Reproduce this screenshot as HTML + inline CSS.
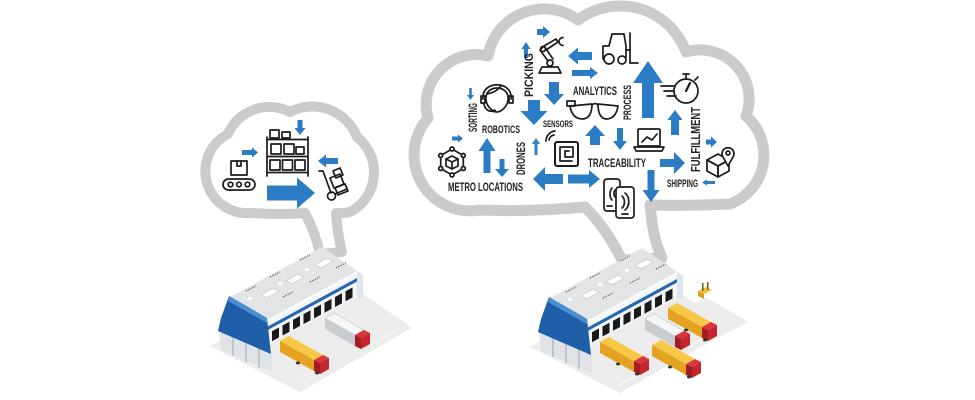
<!DOCTYPE html>
<html>
<head>
<meta charset="utf-8">
<style>
html,body{margin:0;padding:0;background:#fff;}
body{width:975px;height:400px;overflow:hidden;}
svg{display:block;}
.t{font-family:"Liberation Sans Narrow","Liberation Sans",sans-serif;font-weight:bold;fill:#222;}
.ic{fill:none;stroke:#1b1b1b;stroke-width:1.7;stroke-linecap:round;stroke-linejoin:round;}
.ar{fill:#2b7cc4;}
</style>
</head>
<body>
<svg width="975" height="400" viewBox="0 0 975 400" xmlns="http://www.w3.org/2000/svg">
<defs>
  <g id="ytruck">
    <polygon points="280,341 289,336 323,355 314,360" fill="#f7c846"/>
    <polygon points="280,341 314,360 314,371 280,352" fill="#e3a21f"/>
    <polygon points="314,360 323,355 329,358 320,363" fill="#d9353c"/>
    <polygon points="314,360 320,363 320,374 314,371" fill="#a51b22"/>
    <polygon points="320,363 329,358 329,369 320,374" fill="#c4262e"/>
    <ellipse cx="298" cy="363" rx="2" ry="1.5" fill="#333"/>
    <ellipse cx="317" cy="373" rx="2" ry="1.5" fill="#333"/>
  </g>
  <g id="bld">
    <polygon points="210,346 300,392 412,328 398,318 360,292 240,330" fill="#ececec"/>
    <g stroke="#fafafa" stroke-width="1">
      <line x1="300" y1="384" x2="330" y2="367"/>
      <line x1="370" y1="345" x2="400" y2="328"/>
    </g>
    <polygon points="219,330 272,354 272,372 221,350" fill="#dfe3e7"/>
    <g stroke="#a9b0b8" stroke-width="1.2">
      <line x1="233" y1="336" x2="233" y2="356"/>
      <line x1="246" y1="342" x2="246" y2="362"/>
      <line x1="259" y1="348" x2="259" y2="368"/>
    </g>
    <polygon points="230,297 322,247 357,271 265,321" fill="#e3e4e6"/>
    <polygon points="357,271 363,275 363,299 357,297" fill="#dde5ee"/>
    <polygon points="265,321 357,271 357,297 265,347" fill="#f2f5f8"/>
    <polygon points="265,321 357,271 357,274 265,324" fill="#f8fafc"/>
    <polygon points="265,328 357,278 357,281.5 265,331.5" fill="#2566ae"/>
    <g fill="#1a1a1a">
      <polygon points="272,331.2 279,327.4 279,337.4 272,341.2"/>
      <polygon points="282.5,325.5 289.5,321.7 289.5,331.7 282.5,335.5"/>
      <polygon points="293,319.8 300,316 300,326 293,329.8"/>
      <polygon points="303.5,314.1 310.5,310.3 310.5,320.3 303.5,324.1"/>
      <polygon points="314,308.4 321,304.6 321,314.6 314,318.4"/>
      <polygon points="324.5,302.7 331.5,298.9 331.5,308.9 324.5,312.7"/>
      <polygon points="335,297 342,293.2 342,303.2 335,307"/>
      <polygon points="345.5,291.3 352.5,287.5 352.5,297.5 345.5,301.3"/>
    </g>
    <polygon points="229,296 267,318 271,354 218,331 221,318" fill="#1e5fa8"/>
    <polygon points="229,296 267,318 267,323 228,301" fill="#4a8fd0"/>
    <g fill="#ffffff" stroke="#c9cbce" stroke-width="0.8">
      <polygon points="261,294.7 273,288.1 279,291.3 267,297.9"/>
      <polygon points="286,280.7 298,274.1 304,277.3 292,283.9"/>
      <polygon points="315,264.7 327,258.1 333,261.3 321,267.9"/>
    </g>
    <g fill="#ffffff">
      <rect x="248" y="297" width="4" height="3"/>
      <rect x="278" y="282" width="4" height="3"/>
      <rect x="305" y="268" width="4" height="3"/>
    </g>
    <g stroke="#6d6f73" stroke-width="1.4" stroke-dasharray="1.3,1.3">
      <line x1="246" y1="291" x2="256" y2="286"/>
      <line x1="270" y1="277" x2="280" y2="272"/>
      <line x1="300" y1="260" x2="310" y2="255"/>
      <line x1="283" y1="297" x2="293" y2="292"/>
      <line x1="310" y1="282" x2="320" y2="277"/>
      <line x1="336" y1="268" x2="346" y2="263"/>
    </g>
    <use href="#ytruck"/>
    <polygon points="325,318 334,313 364,330 355,335" fill="#f6f6f6" stroke="#c4c8cc" stroke-width="0.6"/>
    <polygon points="325,318 355,335 355,346 325,329" fill="#c9cdd2"/>
    <polygon points="355,335 364,330 370,333 361,338" fill="#d9353c"/>
    <polygon points="355,335 361,338 361,349 355,346" fill="#a51b22"/>
    <polygon points="361,338 370,333 370,344 361,349" fill="#c4262e"/>
  </g>
</defs>

<!-- LEFT CLOUD -->
<path d="M252,213 A42,42 0 0 1 228,134 A45,45 0 0 1 290,112 A48,48 0 0 1 357,137 A45,45 0 0 1 352,211 Q345,214 336,213 C337,228 339,240 342,252 L320,254 C317,240 312,226 305,213 Q280,215 252,213 Z" fill="#fff" stroke="#cbcbcb" stroke-width="10" stroke-linejoin="round"/>

<!-- RIGHT CLOUD -->
<path d="M480,210 A56,56 0 0 1 428,118 A50,50 0 0 1 488,56 A57,57 0 0 1 578,20 A70,70 0 0 1 686,52 A49,49 0 0 1 746,116 A52,52 0 0 1 730,204 Q690,206 650,205 C652,225 654,240 662,258 L622,260 C612,240 600,222 585,207 Q530,212 480,210 Z" fill="#fff" stroke="#cbcbcb" stroke-width="11" stroke-linejoin="round"/>

<!-- BUILDINGS -->
<polygon points="615,390 748,322 706,297 650,330" fill="#ececec"/>
<use href="#bld"/>
<use href="#bld" transform="translate(320,1)"/>
<use href="#ytruck" transform="translate(388,-33)"/>
<use href="#ytruck" transform="translate(372,4)"/>
<g>
  <polygon points="698,291 706,287 712,290 704,294" fill="#f2c230"/>
  <polygon points="698,291 704,294 704,299 698,296" fill="#d9a21c"/>
  <rect x="702" y="283" width="1.5" height="8" fill="#6a5a20"/>
  <rect x="707" y="282" width="1.5" height="8" fill="#6a5a20"/>
</g>

<!-- LEFT CLOUD ICONS -->
<g class="ic">
  <line x1="267" y1="137" x2="267" y2="176"/>
  <line x1="308" y1="137" x2="308" y2="176"/>
  <line x1="267" y1="139.5" x2="308" y2="139.5"/>
  <line x1="267" y1="156.5" x2="308" y2="156.5"/>
  <line x1="267" y1="172.5" x2="308" y2="172.5"/>
  <rect x="270" y="130" width="9" height="8"/>
  <rect x="282" y="132" width="8" height="6"/>
  <rect x="271" y="144" width="10" height="10"/>
  <rect x="284" y="144" width="10" height="10"/>
  <rect x="296" y="147" width="8" height="7"/>
  <rect x="270" y="160" width="10" height="10"/>
  <rect x="282.5" y="160" width="10" height="10"/>
  <rect x="295" y="160" width="10" height="10"/>
  <rect x="231" y="161" width="16" height="14"/>
  <path d="M237,161 L237,166 L241,166 L241,161"/>
  <rect x="223" y="179" width="32" height="11" rx="5.5"/>
  <circle cx="230.5" cy="184.5" r="2.3"/>
  <circle cx="239" cy="184.5" r="2.3"/>
  <circle cx="247.5" cy="184.5" r="2.3"/>
  <path d="M319,171 L323,171 L331,193"/>
  <circle cx="331.5" cy="196" r="4"/>
  <path d="M335,194 L347,189"/>
  <polygon points="330,178 340,174 344,184 334,188"/>
  <polygon points="335,188 345,184 348,191 338,195"/>
  <polygon points="333,171 340,168 343,175 336,178"/>
</g>
<g class="ar">
  <polygon transform="translate(300,120) rotate(90)" points="0,-2.5 8,-2.5 8,-5.5 15,0 8,5.5 8,2.5 0,2.5"/>
  <polygon transform="translate(242,152.5)" points="0,-2.5 10,-2.5 10,-5 16,0 10,5 10,2.5 0,2.5"/>
  <polygon transform="translate(338,161) rotate(180)" points="0,-3 12,-3 12,-6.5 20,0 12,6.5 12,3 0,3"/>
  <polygon transform="translate(267,193)" points="0,-7.5 30,-7.5 30,-15.5 48,0 30,15.5 30,7.5 0,7.5"/>
</g>

<!-- RIGHT CLOUD ARROWS -->
<g class="ar">
  <polygon transform="translate(537,32)" points="0,-3 6,-3 6,-6 13,0 6,6 6,3 0,3"/>
  <polygon transform="translate(526,58) rotate(-90)" points="0,-2 9,-2 9,-4.5 16,0 9,4.5 9,2 0,2"/>
  <polygon transform="translate(592,56) rotate(180)" points="0,-4 14,-4 14,-8.5 24,0 14,8.5 14,4 0,4"/>
  <polygon transform="translate(572,73)" points="0,-3 18,-3 18,-6 26,0 18,6 18,3 0,3"/>
  <polygon transform="translate(554,82) rotate(90)" points="0,-5 12,-5 12,-10 23,0 12,10 12,5 0,5"/>
  <polygon transform="translate(534,100) rotate(90)" points="0,-6 11,-6 11,-13.5 25,0 11,13.5 11,6 0,6"/>
  <polygon transform="translate(470.5,88) rotate(90)" points="0,-1.25 7,-1.25 7,-3.5 12,0 7,3.5 7,1.25 0,1.25"/>
  <polygon transform="translate(648,118) rotate(-90)" points="0,-6 35,-6 35,-15 57,0 35,15 35,6 0,6"/>
  <polygon transform="translate(675,135) rotate(-90)" points="0,-4 15,-4 15,-7.5 25,0 15,7.5 15,4 0,4"/>
  <polygon transform="translate(595,145) rotate(-90)" points="0,-5 9,-5 9,-10 20,0 9,10 9,5 0,5"/>
  <polygon transform="translate(620,128) rotate(90)" points="0,-3 13,-3 13,-7 22,0 13,7 13,3 0,3"/>
  <polygon transform="translate(536,155) rotate(-90)" points="0,-1.5 11,-1.5 11,-4 17,0 11,4 11,1.5 0,1.5"/>
  <polygon transform="translate(452,138.5)" points="0,-2 6,-2 6,-4 11,0 6,4 6,2 0,2"/>
  <polygon transform="translate(487,173) rotate(-90)" points="0,-3.5 22,-3.5 22,-8.5 35,0 22,8.5 22,3.5 0,3.5"/>
  <polygon transform="translate(502,159) rotate(90)" points="0,-2.5 10,-2.5 10,-7 18,0 10,7 10,2.5 0,2.5"/>
  <polygon transform="translate(563,179) rotate(180)" points="0,-5 18,-5 18,-12 30,0 18,12 18,5 0,5"/>
  <polygon transform="translate(568,179)" points="0,-4.5 21,-4.5 21,-9 32,0 21,9 21,4.5 0,4.5"/>
  <polygon transform="translate(660,163)" points="0,-4 14,-4 14,-11 25,0 14,11 14,4 0,4"/>
  <polygon transform="translate(651,170) rotate(90)" points="0,-3.5 20,-3.5 20,-8.5 32,0 20,8.5 20,3.5 0,3.5"/>
  <polygon transform="translate(706,142)" points="0,-2.5 5,-2.5 5,-5.5 11,0 5,5.5 5,2.5 0,2.5"/>
  <polygon transform="translate(715,182.5) rotate(180)" points="0,-1.5 8,-1.5 8,-3 13,0 8,3 8,1.5 0,1.5"/>
</g>

<!-- RIGHT CLOUD ICONS -->
<g class="ic">
  <path d="M539,73 L561,73 L558,67 L542,67 Z"/>
  <circle cx="550" cy="63" r="3"/>
  <path d="M548,61 L540,50 L544,46 L553,59"/>
  <circle cx="543" cy="49" r="2.5"/>
  <path d="M544,46 L556,39 L558,42 L546,50"/>
  <path d="M563,37.5 A4,4 0 1,0 563,45.5"/>
  <path d="M603,59 L603,46 L609,46 L612,34 L624,34 L626,46 L626,58"/>
  <circle cx="609" cy="59" r="5"/>
  <circle cx="622" cy="60" r="4"/>
  <line x1="630" y1="33" x2="630" y2="63"/>
  <line x1="630" y1="63" x2="638" y2="63"/>
  <line x1="626" y1="50" x2="630" y2="50"/>
  <path d="M486,100 C484,84 510,84 508,100 C507,108 500,112 497,112 C494,112 487,108 486,100 Z"/>
  <path d="M487,94 C493,93 498,90 501,86"/>
  <path d="M483,99 C481,80 513,80 511,99"/>
  <rect x="481" y="96" width="4" height="7"/>
  <rect x="509" y="96" width="4" height="7"/>
  <path d="M484,104 C485,110 489,112 494,111"/>
  <path d="M570,106 L592,104 Q592,118 583,119 Q572,119 570,106 Z"/>
  <path d="M598,104 L618,106 Q616,119 606,119 Q598,118 598,104 Z"/>
  <path d="M592,105 Q595,102 598,105"/>
  <rect x="567" y="101" width="8" height="5"/>
  <circle cx="686" cy="91" r="12"/>
  <path d="M683,74 L689,74 M686,74 L686,79 M695,80 L698,77"/>
  <line x1="686" y1="91" x2="690" y2="83" stroke-width="2.2"/>
  <path d="M661,86 L674,86 M664,91 L674,91 M667,96 L676,96"/>
  <rect x="638" y="129" width="22" height="17" rx="1"/>
  <path d="M634,147 L664,147 L662,151 L636,151 Z"/>
  <polyline points="642,142 647,137 652,140 657,134"/>
  <rect x="555" y="142" width="23" height="24" rx="2" stroke-width="2"/>
  <path d="M572,161 L560,161 L560,147 L573,147 L573,157 L565,157 L565,151 L569,151"/>
  <path d="M549,140 A6,6 0 0,1 554,135"/>
  <path d="M546,141 A10,10 0 0,1 555,131"/>
  <rect x="604" y="179" width="16" height="32" rx="3" fill="#fff"/>
  <path d="M612,188 A6,8 0 0,0 612,200 M615,190 A4,5 0 0,0 615,197 M607,206 L612,206"/>
  <rect x="616" y="187" width="18" height="31" rx="3" fill="#fff"/>
  <path d="M622,196 A5,7 0 0,1 622,208 M625,193 A8,10 0 0,1 625,210 M622,214 L628,214"/>
  <polygon points="707,160 718,154 729,160 718,166"/>
  <polygon points="707,160 718,166 718,177 707,171"/>
  <polygon points="718,166 729,160 729,171 718,177"/>
  <path d="M728,166 L723,157 A6,6 0 1,1 733,157 Z" fill="#fff"/>
  <circle cx="728" cy="153" r="2"/>
  <polygon points="452,149 463.3,155.5 463.3,168.5 452,175 440.7,168.5 440.7,155.5"/>
  <polygon points="446,159 452,156 458,159 458,166 452,169 446,166"/>
  <path d="M446,159 L452,162 L458,159 M452,162 L452,169"/>
  <g fill="#fff">
    <circle cx="452" cy="149" r="2"/>
    <circle cx="463.3" cy="155.5" r="2"/>
    <circle cx="463.3" cy="168.5" r="2"/>
    <circle cx="452" cy="175" r="2"/>
    <circle cx="440.7" cy="168.5" r="2"/>
    <circle cx="440.7" cy="155.5" r="2"/>
  </g>
</g>
<circle cx="494.5" cy="111" r="1.6" fill="#1b1b1b"/>

<!-- LABELS -->
<text class="t" x="573" y="95" font-size="12" textLength="44" lengthAdjust="spacingAndGlyphs">ANALYTICS</text>
<text class="t" x="482" y="133" font-size="11" textLength="38" lengthAdjust="spacingAndGlyphs">ROBOTICS</text>
<text class="t" x="543" y="127" font-size="9.5" textLength="30" lengthAdjust="spacingAndGlyphs">SENSORS</text>
<text class="t" x="588" y="167" font-size="12" textLength="58" lengthAdjust="spacingAndGlyphs">TRACEABILITY</text>
<text class="t" x="667" y="187" font-size="11" textLength="31" lengthAdjust="spacingAndGlyphs">SHIPPING</text>
<text class="t" x="448" y="191" font-size="12" textLength="75" lengthAdjust="spacingAndGlyphs">METRO LOCATIONS</text>
<text class="t" transform="translate(533,97) rotate(-90)" font-size="12" textLength="44" lengthAdjust="spacingAndGlyphs">PICKING</text>
<text class="t" transform="translate(631,120) rotate(-90)" font-size="11" textLength="35" lengthAdjust="spacingAndGlyphs">PROCESS</text>
<text class="t" transform="translate(477,132) rotate(-90)" font-size="12" textLength="29" lengthAdjust="spacingAndGlyphs">SORTING</text>
<text class="t" transform="translate(525,175) rotate(-90)" font-size="11.5" textLength="33" lengthAdjust="spacingAndGlyphs">DRONES</text>
<text class="t" transform="translate(700,172) rotate(-90)" font-size="13" textLength="65" lengthAdjust="spacingAndGlyphs">FULFILLMENT</text>
</svg>
</body>
</html>
